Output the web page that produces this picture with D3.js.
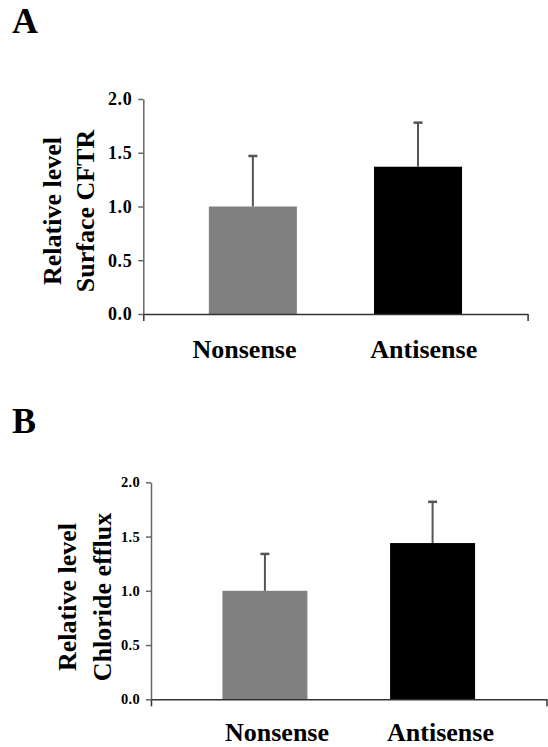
<!DOCTYPE html>
<html>
<head>
<meta charset="utf-8">
<script src="https://cdn.jsdelivr.net/npm/d3@7"></script>
<style>
  html, body { margin: 0; padding: 0; background: #fff; }
  svg { display: block; }
  text { font-family: "Liberation Serif", "Times New Roman", serif; font-weight: bold; fill: #000; }
</style>
</head>
<body>
<svg id="chart" width="548" height="747"></svg>
<script>
// ---- data ----
const categories = ["Nonsense", "Antisense"];
const surfaceValues = [1.00, 1.37];
const surfaceErrors = [0.47, 0.41];
const effluxValues = [1.00, 1.44];
const effluxErrors = [0.34, 0.38];
const yTicks = [0, 0.5, 1.0, 1.5, 2.0];
const barColors = ["#808080", "#000000"];
const panelLetters = ["A", "B"];
const yLabelsA = ["Relative level", "Surface CFTR"];
const yLabelsB = ["Relative level", "Chloride efflux"];

const svg = d3.select("#chart");

const panels = [
  {
    letter: panelLetters[0], letterY: 33,
    values: surfaceValues, errors: surfaceErrors, ylab: yLabelsA,
    x0: 143.3, x1: 527.6, yTop: 99, yBot: 314,
    padIn: 0.467, padOut: 0.397,
    tickFont: 18, tickSpacing: 0.6,
    labelRange: [244.5, 423.8], labelY: 358,
    ylabX: [61, 94], ylabY: 211
  },
  {
    letter: panelLetters[1], letterY: 433,
    values: effluxValues, errors: effluxErrors, ylab: yLabelsB,
    x0: 151, x1: 546.5, yTop: 482.3, yBot: 699.3,
    padIn: 0.493, padOut: 0.426,
    tickFont: 14.5, tickSpacing: 0.3,
    labelRange: [277, 440.5], labelY: 741,
    ylabX: [75.5, 110.5], ylabY: 597
  }
];

panels.forEach(p => {
  const g = svg.append("g");

  g.append("text")
    .attr("x", 12).attr("y", p.letterY)
    .style("font-size", "36px")
    .text(p.letter);

  const x = d3.scaleBand().domain(categories)
    .range([p.x0, p.x1]).paddingInner(p.padIn).paddingOuter(p.padOut);
  const y = d3.scaleLinear().domain([0, 2]).range([p.yBot, p.yTop]);

  // bars
  g.selectAll("rect.bar").data(categories).join("rect")
    .attr("class", "bar")
    .attr("x", d => x(d))
    .attr("width", x.bandwidth())
    .attr("y", (d, i) => y(p.values[i]))
    .attr("height", (d, i) => y(0) - y(p.values[i]))
    .attr("fill", (d, i) => barColors[i]);

  // error bars (upper only)
  const eb = g.selectAll("g.err").data(categories).join("g").attr("class", "err");
  eb.append("line")
    .attr("x1", d => x(d) + x.bandwidth() / 2)
    .attr("x2", d => x(d) + x.bandwidth() / 2)
    .attr("y1", (d, i) => y(p.values[i]))
    .attr("y2", (d, i) => y(p.values[i] + p.errors[i]))
    .attr("stroke", "#555").attr("stroke-width", 2);
  eb.append("line")
    .attr("x1", d => x(d) + x.bandwidth() / 2 - 4.5)
    .attr("x2", d => x(d) + x.bandwidth() / 2 + 4.5)
    .attr("y1", (d, i) => y(p.values[i] + p.errors[i]))
    .attr("y2", (d, i) => y(p.values[i] + p.errors[i]))
    .attr("stroke", "#555").attr("stroke-width", 2.5);

  // x axis (line with end ticks)
  const xl = d3.scaleLinear().domain([0, 1]).range([p.x0, p.x1]);
  const xAxisG = g.append("g")
    .attr("transform", `translate(0,${y(0)})`)
    .call(d3.axisBottom(xl).tickValues([0, 1]).tickSize(7).tickSizeOuter(0).tickFormat(""));
  xAxisG.selectAll("path, line").attr("stroke", "#333").attr("stroke-width", 1.5);

  // y axis
  const yAxisG = g.append("g")
    .attr("transform", `translate(${p.x0},0)`)
    .call(d3.axisLeft(y).tickValues(yTicks).tickFormat(d3.format(".1f"))
      .tickSize(5).tickSizeOuter(0).tickPadding(6));
  yAxisG.selectAll("path, line").attr("stroke", "#666").attr("stroke-width", 1.5);
  yAxisG.selectAll("text")
    .style("font-family", '"Liberation Serif", serif')
    .style("font-weight", "bold")
    .style("font-size", p.tickFont + "px")
    .style("letter-spacing", p.tickSpacing + "px")
    .attr("fill", "#000");

  // category labels
  const lx = d3.scalePoint().domain(categories).range(p.labelRange);
  g.selectAll("text.cat").data(categories).join("text")
    .attr("class", "cat")
    .attr("x", d => lx(d)).attr("y", p.labelY)
    .attr("text-anchor", "middle")
    .style("font-size", "26px")
    .text(d => d);

  // y label (two lines, rotated)
  p.ylab.forEach((t, i) => {
    g.append("text")
      .attr("transform", `translate(${p.ylabX[i]},${p.ylabY}) rotate(-90)`)
      .attr("text-anchor", "middle")
      .style("font-size", "26px")
      .text(t);
  });
});
</script>
</body>
</html>
